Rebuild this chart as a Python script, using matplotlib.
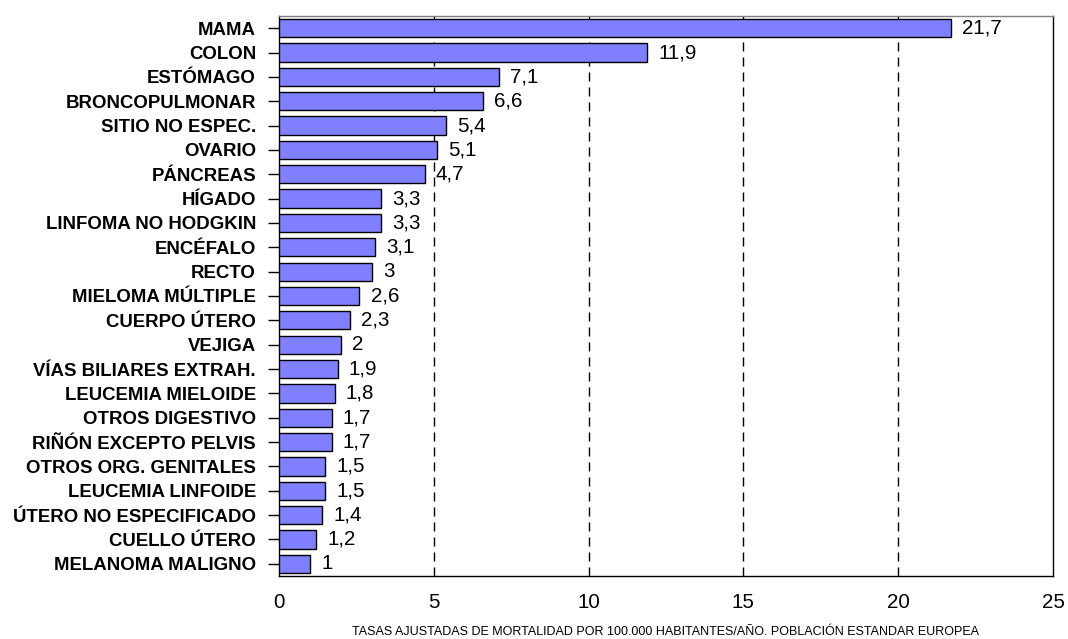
import matplotlib
matplotlib.use("Agg")
import matplotlib.pyplot as plt

categories = ["MAMA", "COLON", "ESTÓMAGO", "BRONCOPULMONAR", "SITIO NO ESPEC.", "OVARIO",
              "PÁNCREAS", "HÍGADO", "LINFOMA NO HODGKIN", "ENCÉFALO", "RECTO",
              "MIELOMA MÚLTIPLE", "CUERPO ÚTERO", "VEJIGA", "VÍAS BILIARES EXTRAH.",
              "LEUCEMIA MIELOIDE", "OTROS DIGESTIVO", "RIÑÓN EXCEPTO PELVIS",
              "OTROS ORG. GENITALES", "LEUCEMIA LINFOIDE", "ÚTERO NO ESPECIFICADO",
              "CUELLO ÚTERO", "MELANOMA MALIGNO"]
values = [21.7, 11.9, 7.1, 6.6, 5.4, 5.1, 4.7, 3.3, 3.3, 3.1, 3, 2.6, 2.3, 2, 1.9,
          1.8, 1.7, 1.7, 1.5, 1.5, 1.4, 1.2, 1]
xticks = [0, 5, 10, 15, 20, 25]
xlabel = "TASAS AJUSTADAS DE MORTALIDAD POR 100.000 HABITANTES/AÑO. POBLACIÓN ESTANDAR EUROPEA"

plt.rcParams['font.family'] = ['Liberation Sans', 'DejaVu Sans']

fig = plt.figure(figsize=(10.68, 6.39), dpi=100)
ax = fig.add_axes([279/1068, 1-576/639, (1053-279)/1068, (576-16)/639])

pos = list(range(len(categories)))
ax.barh(pos, values, height=0.75, color="#8080FF", edgecolor="black", linewidth=1.0, zorder=3)
for p, v in zip(pos, values):
    s = ("%g" % v).replace(".", ",")
    ax.text(v + 0.36, p, s, va="center", ha="left", fontsize=14.8, zorder=4)

ax.set_xlim(0, 25)
ax.set_ylim(len(categories) - 0.5, -0.5)
ax.set_xticks(xticks)
ax.set_xticklabels([str(t) for t in xticks], fontsize=14.8)
ax.tick_params(axis="x", length=0, pad=12)
ax.set_yticks(pos)
ax.set_yticklabels(categories, fontsize=13.4, fontweight="bold")
ax.tick_params(axis="y", length=8, width=1, pad=8.5)
for t in [5, 10, 15, 20]:
    ax.axvline(t, color="black", linestyle=(0, (6.5, 4.3)), linewidth=1.0, zorder=1)
for sp in ax.spines.values():
    sp.set_linewidth(1.0)
ax.spines["top"].set_color("#808080")

fig.text((352+980)/2/1068, 1-632/639, xlabel, ha="center", va="center", fontsize=9)

fig.savefig("out.png", dpi=100)
